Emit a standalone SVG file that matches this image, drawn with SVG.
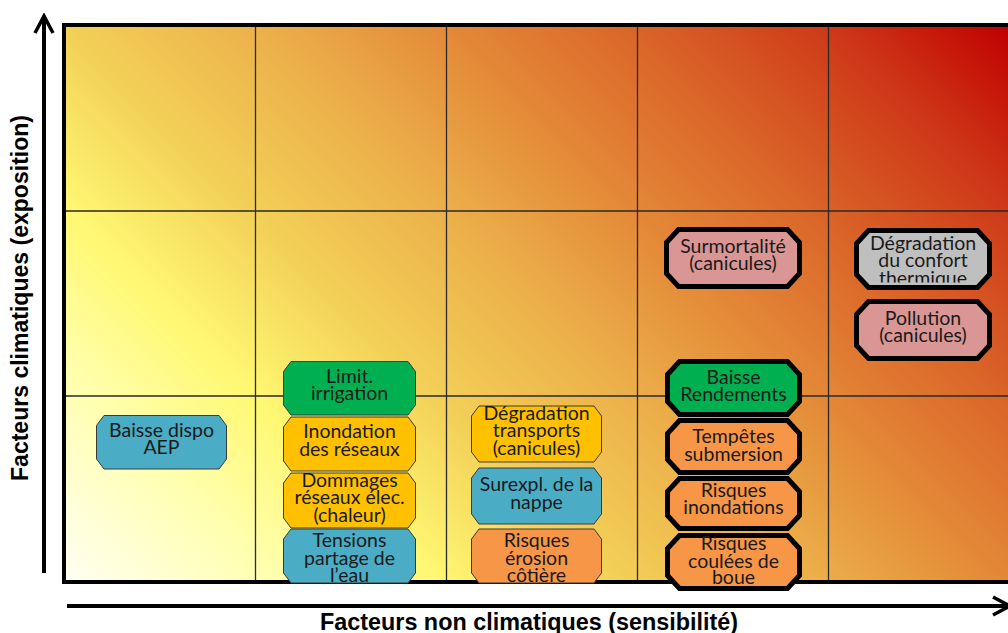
<svg xmlns="http://www.w3.org/2000/svg" width="1008" height="633" viewBox="0 0 1008 633">
<defs>
<linearGradient id="bg" gradientUnits="userSpaceOnUse" x1="64" y1="582" x2="814.5" y2="-168.5">
<stop offset="0" stop-color="#FFFFF4"/>
<stop offset="0.14" stop-color="#FFFFB0"/>
<stop offset="0.25" stop-color="#FFF872"/>
<stop offset="0.37" stop-color="#F3D058"/>
<stop offset="0.5" stop-color="#ECB04A"/>
<stop offset="0.62" stop-color="#E48A38"/>
<stop offset="0.75" stop-color="#DA6428"/>
<stop offset="0.88" stop-color="#CE3818"/>
<stop offset="1" stop-color="#C00000"/>
</linearGradient>
<marker id="arr" viewBox="0 0 22 22" refX="19" refY="11" markerWidth="22" markerHeight="22" markerUnits="userSpaceOnUse" orient="auto">
<path d="M2,2 L19,11 L2,20" fill="none" stroke="#000" stroke-width="3.5"/>
</marker>
<clipPath id="c-tens"><rect x="283" y="529" width="133" height="53.5"/></clipPath>
<clipPath id="c-cot"><rect x="471" y="529" width="131" height="53.5"/></clipPath>
<clipPath id="c-therm"><rect x="856" y="230" width="134" height="52.5"/></clipPath>
<clipPath id="c-boue"><rect x="667" y="535" width="133" height="50"/></clipPath>
</defs>
<style>
.thin{stroke:#3A3A3A;stroke-width:1}
.thick{stroke:#000;stroke-width:5;stroke-linejoin:miter}
.lbl{font-family:Lato,"Open Sans","Liberation Sans",sans-serif;font-size:19.5px;fill:#1A1A1A;text-anchor:middle}
.ax{font-family:"Liberation Sans",Arial,sans-serif;font-weight:bold;font-size:23px;fill:#000}
.grid{stroke:#2A2A2A;stroke-width:1.3;fill:none}
.teal{fill:#4BACC6}.green{fill:#00B050}.gold{fill:#FFC000}.orange{fill:#F79646}.pink{fill:#D99694}.gray{fill:#BFBFBF}
</style>
<rect width="1008" height="633" fill="#FFFFFF"/>
<g id="matrix">
<rect x="64" y="25" width="1000" height="557" fill="url(#bg)"/>
<path class="grid" d="M255.5,25V582M446.5,25V582M637.5,25V582M828.5,25V582M64,211H1008M64,396H1008"/>
<rect x="64" y="25" width="1000" height="557" fill="none" stroke="#000" stroke-width="4"/>
</g>
<g id="axes">
<line x1="44" y1="573" x2="44" y2="16" stroke="#000" stroke-width="4" marker-end="url(#arr)"/>
<line x1="67" y1="606" x2="1010" y2="606" stroke="#000" stroke-width="4" marker-end="url(#arr)"/>
<text class="ax" transform="translate(28,298) rotate(-90)" text-anchor="middle" textLength="366" lengthAdjust="spacingAndGlyphs">Facteurs climatiques (exposition)</text>
<text class="ax" x="529" y="630" text-anchor="middle" textLength="418" lengthAdjust="spacingAndGlyphs">Facteurs non climatiques (sensibilité)</text>
</g>
<g id="n-aep">
<path class="thin teal" d="M104,415.5H219L226.5,425.5V459L219,469H104L96.5,459V425.5Z"/>
<text class="lbl" x="161.5" y="437">Baisse dispo</text>
<text class="lbl" x="161.5" y="454">AEP</text>
</g>
<g id="n-limit">
<path class="thin green" d="M291,361.5H408L415.5,371.5V405L408,415H291L283.5,405V371.5Z"/>
<text class="lbl" x="349.5" y="383">Limit.</text>
<text class="lbl" x="349.5" y="400">irrigation</text>
</g>
<g id="n-inond-res">
<path class="thin gold" d="M291,417H408L415.5,427V461L408,471H291L283.5,461V427Z"/>
<text class="lbl" x="349.5" y="438">Inondation</text>
<text class="lbl" x="349.5" y="456">des réseaux</text>
</g>
<g id="n-dommages">
<path class="thin gold" d="M291,473H408L415.5,483V518L408,528H291L283.5,518V483Z"/>
<text class="lbl" x="349.5" y="487">Dommages</text>
<text class="lbl" x="349.5" y="504">réseaux élec.</text>
<text class="lbl" x="349.5" y="521.5">(chaleur)</text>
</g>
<g id="n-tensions">
<path class="thin teal" d="M291,529H408L415.5,539V573L408,583H291L283.5,573V539Z"/>
<g clip-path="url(#c-tens)">
<text class="lbl" x="349.5" y="547">Tensions</text>
<text class="lbl" x="349.5" y="564.5">partage de</text>
<text class="lbl" x="349.5" y="582">l’eau</text>
</g>
</g>
<g id="n-degr-transp">
<path class="thin gold" d="M479,406H594L601.5,416V452L594,462H479L471.5,452V416Z"/>
<text class="lbl" x="536.5" y="419.5">Dégradation</text>
<text class="lbl" x="536.5" y="437">transports</text>
<text class="lbl" x="536.5" y="454.5">(canicules)</text>
</g>
<g id="n-surexpl">
<path class="thin teal" d="M479,468H594L601.5,478V514L594,524H479L471.5,514V478Z"/>
<text class="lbl" x="536.5" y="491">Surexpl. de la</text>
<text class="lbl" x="536.5" y="508.5">nappe</text>
</g>
<g id="n-erosion">
<path class="thin orange" d="M479,529H594L601.5,539V573L594,583H479L471.5,573V539Z"/>
<g clip-path="url(#c-cot)">
<text class="lbl" x="536.5" y="547">Risques</text>
<text class="lbl" x="536.5" y="564.5">érosion</text>
<text class="lbl" x="536.5" y="582">côtière</text>
</g>
</g>
<g id="n-surmortalite">
<path class="thick pink" d="M678.5,229.5H787.5L799.5,242.5V273.5L787.5,286.5H678.5L666.5,273.5V242.5Z"/>
<text class="lbl" x="733" y="253">Surmortalité</text>
<text class="lbl" x="733" y="270">(canicules)</text>
</g>
<g id="n-confort">
<path class="thick gray" d="M868.5,230.5H977.5L989.5,243.5V274.5L977.5,287.5H868.5L856.5,274.5V243.5Z"/>
<g clip-path="url(#c-therm)">
<text class="lbl" x="923" y="249.5">Dégradation</text>
<text class="lbl" x="923" y="267">du confort</text>
<text class="lbl" x="923" y="284.5">thermique</text>
</g>
</g>
<g id="n-pollution">
<path class="thick pink" d="M868.5,301.5H977.5L989.5,314.5V345.5L977.5,358.5H868.5L856.5,345.5V314.5Z"/>
<text class="lbl" x="923" y="325">Pollution</text>
<text class="lbl" x="923" y="342">(canicules)</text>
</g>
<g id="n-rendements">
<path class="thick green" d="M679.5,361.5H787.5L799.5,374.5V401.5L787.5,414.5H679.5L667.5,401.5V374.5Z"/>
<text class="lbl" x="733.5" y="383.5">Baisse</text>
<text class="lbl" x="733.5" y="400.5">Rendements</text>
</g>
<g id="n-tempetes">
<path class="thick orange" d="M679.5,420.5H787.5L799.5,433.5V459.5L787.5,472.5H679.5L667.5,459.5V433.5Z"/>
<text class="lbl" x="733.5" y="443">Tempêtes</text>
<text class="lbl" x="733.5" y="461">submersion</text>
</g>
<g id="n-inondations">
<path class="thick orange" d="M679.5,478.5H787.5L799.5,491.5V515.5L787.5,528.5H679.5L667.5,515.5V491.5Z"/>
<text class="lbl" x="733.5" y="497">Risques</text>
<text class="lbl" x="733.5" y="513.5">inondations</text>
</g>
<g id="n-coulees">
<path class="thick orange" d="M679.5,535.5H787.5L799.5,548.5V575.5L787.5,588.5H679.5L667.5,575.5V548.5Z"/>
<g clip-path="url(#c-boue)">
<text class="lbl" x="733.5" y="549.5">Risques</text>
<text class="lbl" x="733.5" y="567.5">coulées de</text>
<text class="lbl" x="733.5" y="584">boue</text>
</g>
</g>
</svg>
